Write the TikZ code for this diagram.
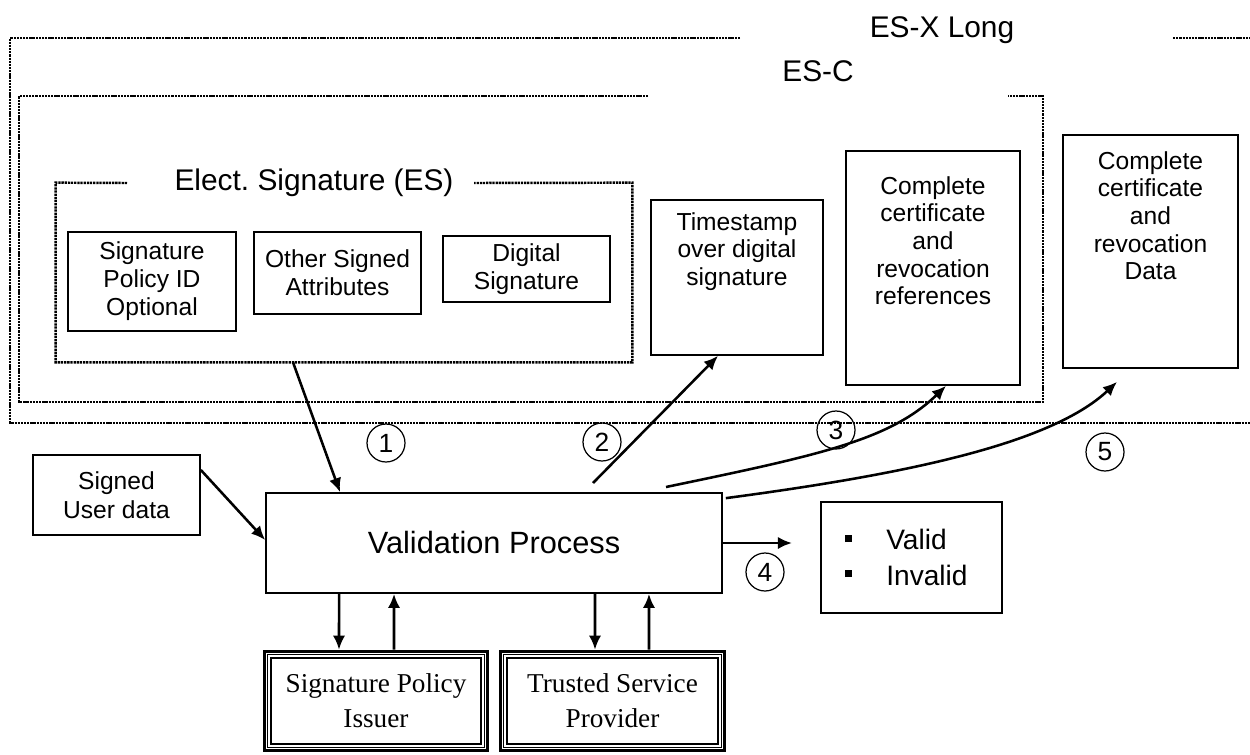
\documentclass[tikz,border=0pt]{standalone}
\usepackage{fontspec}
\setmainfont{Liberation Sans}
\newfontfamily\serifbox{Liberation Serif}
\usetikzlibrary{arrows.meta}
\frenchspacing
\begin{document}
\begin{tikzpicture}[x=0.02cm,y=-0.02cm,
  box/.style={draw,line width=1pt,align=center,inner sep=0pt,font=\fontsize{14}{16}\selectfont},
  txt/.style={align=center,inner sep=0pt,font=\fontsize{14}{15.7}\selectfont},
  dotframe/.style={line width=1.4pt,dash pattern=on 1.3pt off 0.5pt},
  ttl/.style={font=\fontsize{17}{20}\selectfont,inner sep=0pt},
  arr/.style={line width=1.45pt,-{Latex[length=8pt,width=7pt]}},
  num/.style={circle,draw,line width=0.7pt,minimum size=0.76cm,inner sep=0pt,font=\fontsize{15}{15}\selectfont},
  srcbox/.style={draw=none,align=center,inner sep=0pt,minimum height=2.04cm,font=\serifbox\fontsize{15.5}{20}\selectfont}
]
\useasboundingbox (0,0) rectangle (1250,754);

% ES-X Long frame
\draw[dotframe] (740,38) -- (10,38) -- (10,423) -- (1250,423);
\draw[dotframe] (1173,38) -- (1250,38);
\node[ttl] (esx) at (942,30) {ES-X Long};

% ES-C frame
\draw[dotframe] (648,96) -- (19,96) -- (19,402) -- (1043,402) -- (1043,96) -- (1008,96);
\node[ttl] (esc) at (818,71) {ES-C};

% ES frame
\node[minimum width=11.52cm,minimum height=3.58cm,inner sep=0pt] (es) at (344,272.5) {};
\draw[dotframe] (127,183) -- (es.north west) -- (es.south west) -- (es.south east) -- (es.north east) -- (474,183);
\node[ttl] (est) at (314,183) {Elect. Signature (ES)};

% boxes inside ES
\node[box,minimum width=3.36cm,minimum height=1.98cm] (spid) at (152,281.5) {Signature\\Policy ID\\Optional};
\node[box,minimum width=3.34cm,minimum height=1.64cm] (osa) at (337.5,273) {Other Signed\\Attributes};
\node[box,minimum width=3.34cm,minimum height=1.32cm] (ds) at (526.5,269) {Digital\\Signature};

% timestamp and complete data boxes
\node[box,minimum width=3.44cm,minimum height=3.1cm] (ts) at (737,277.5) {};
\node[txt,anchor=north] (tst) at ([yshift=-0.26cm]ts.north) {Timestamp\\over digital\\signature};
\node[box,minimum width=3.48cm,minimum height=4.68cm] (ccr) at (933,268) {};
\node[txt,anchor=north] (ccrt) at ([yshift=-0.52cm]ccr.north) {Complete\\certificate\\and\\revocation\\references};
\node[box,minimum width=3.5cm,minimum height=4.66cm] (ccd) at (1150.5,251.5) {};
\node[txt,anchor=north] (ccdt) at ([yshift=-0.34cm]ccd.north) {Complete\\certificate\\and\\revocation\\Data};

% lower part
\node[box,minimum width=3.34cm,minimum height=1.6cm,font=\fontsize{14}{16.5}\selectfont] (sud) at (116.5,495) {Signed\\User data};
\node[box,minimum width=9.12cm,minimum height=2cm,font=\fontsize{17.5}{20}\selectfont] (vp) at (494,543) {Validation Process};
\node[box,minimum width=3.62cm,minimum height=2.22cm,text width=2.66cm,inner xsep=0.48cm,align=left,font=\fontsize{16}{20}\selectfont] (vi) at (911.5,557.5)
  {\rule[4.5pt]{4pt}{4pt}\hspace{19.5pt}Valid\\\rule[4.5pt]{4pt}{4pt}\hspace{19.5pt}Invalid};

% source boxes
\node[srcbox,minimum width=4.52cm] (spi) at (376,701) {Signature Policy\\Issuer};
\node[srcbox,minimum width=4.54cm] (tsp) at (612.5,701) {Trusted Service\\Provider};
\foreach \n in {spi,tsp}{
  \draw[line width=2pt] ([shift={(1pt,-1pt)}]\n.north west) rectangle ([shift={(-1pt,1pt)}]\n.south east);
  \draw[line width=0.6pt] ([shift={(3pt,-3pt)}]\n.north west) rectangle ([shift={(-3pt,3pt)}]\n.south east);
  \draw[line width=1.2pt] ([shift={(4.6pt,-4.6pt)}]\n.north west) rectangle ([shift={(-4.6pt,4.6pt)}]\n.south east);
}

% numbers
\node[num] (c1) at (386,443) {1};
\node[num] (c2) at (602,442) {2};
\node[num] (c3) at (836,430) {3};
\node[num] (c4) at (765,572) {4};
\node[num] (c5) at (1105,452) {5};

% free ends
\coordinate (a2s) at (593,483);
\coordinate (a3s) at (666,487);
\coordinate (a4e) at (792,543);

% connectors
\draw[arr] ([xshift=-1.02cm]es.south) -- ([xshift=-3.08cm]vp.north);
\draw[arr] ([yshift=0.5cm]sud.east) -- ([yshift=0.06cm]vp.west);
\draw[arr] (a2s) -- ([xshift=-0.38cm]ts.south);
\draw[arr] (a3s) .. controls (820,455) and (890,440) .. ([xshift=0.26cm]ccr.south);
\draw[arr] (vp.east) -- (a4e);
\draw[arr] ([xshift=0.06cm,yshift=-0.12cm]vp.north east) .. controls (900,475) and (1050,445) .. ([xshift=-0.67cm,yshift=-0.26cm]ccd.south);

\draw[arr] ([xshift=-3.1cm]vp.south) -- ([xshift=-0.74cm]spi.north);
\draw[arr] ([xshift=0.36cm]spi.north) -- ([xshift=-2.0cm]vp.south);
\draw[arr] ([xshift=2.02cm]vp.south) -- ([xshift=-0.35cm]tsp.north);
\draw[arr] ([xshift=0.73cm]tsp.north) -- ([xshift=3.1cm]vp.south);
\end{tikzpicture}
\end{document}
